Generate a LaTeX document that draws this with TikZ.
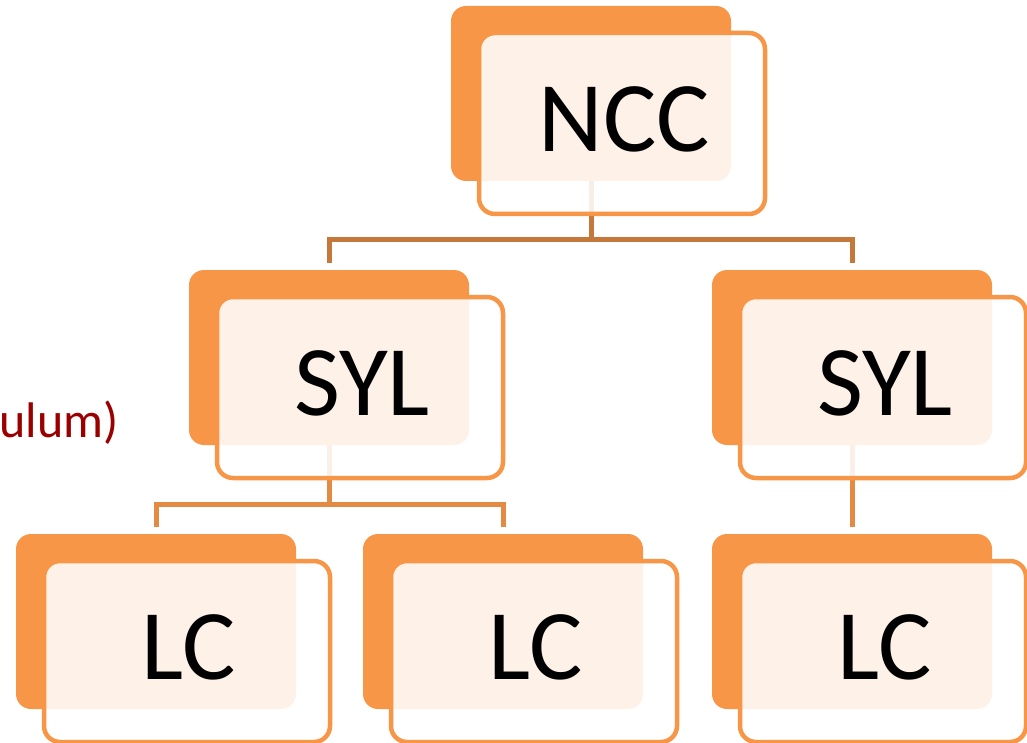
\documentclass[tikz,border=0pt]{standalone}
\usepackage{fontspec}
\setmainfont{Carlito}
\definecolor{boxorange}{RGB}{247,150,70}
\definecolor{connA}{RGB}{196,121,58}
\definecolor{connB}{RGB}{227,139,66}
\definecolor{darkred}{RGB}{155,0,0}
\tikzset{
  backbox/.style={rectangle, draw=none, fill=boxorange, rounded corners=15pt,
    minimum width=280pt, minimum height=175pt, inner sep=0pt},
  frontbox/.style={rectangle, draw=boxorange, line width=4.5pt, fill=white,
    fill opacity=0.88, draw opacity=1, rounded corners=16pt,
    minimum width=286pt, minimum height=181pt, inner sep=0pt},
  boxtext/.style={inner sep=0pt, font=\fontsize{100}{110}\selectfont, text=black},
  connA/.style={draw=connA, line width=5pt, line join=miter},
  connB/.style={draw=connB, line width=5pt, line join=miter},
}
\newcommand\backunit[3]{\node[backbox] (#1b) at (#2+140, #3+87.5) {};}
\newcommand\frontunit[4]{%
  \node[frontbox] (#1f) at (#2+171, #3+117.5) {};
  \node[boxtext] (#1t) at (#2+173, #3+113) {#4};}
\begin{document}
\begin{tikzpicture}[x=1pt, y=-1pt]
\useasboundingbox (0,0) rectangle (1027,743);
% back boxes
\backunit{ncc}{451}{6}
\backunit{sylL}{189}{270}
\backunit{sylR}{712}{270}
\backunit{lcL}{16}{534}
\backunit{lcM}{363}{534}
\backunit{lcR}{712}{534}
% connectors
\draw[connA] (nccb.south) -- ++(0,58) -| ([yshift=7pt]sylLb.north);
\draw[connA] (nccb.south) -- ++(0,58) -| ([yshift=7pt]sylRb.north);
\draw[connB] (sylLb.south) -- ++(0,59) -| ([yshift=7pt]lcLb.north);
\draw[connB] (sylLb.south) -- ++(0,59) -| ([yshift=7pt]lcMb.north);
\draw[connB] (sylRb.south) -- ([yshift=7pt]lcRb.north);
% front boxes and labels
\frontunit{ncc}{451}{6}{NCC}
\frontunit{sylL}{189}{270}{SYL}
\frontunit{sylR}{712}{270}{SYL}
\frontunit{lcL}{16}{534}{LC}
\frontunit{lcM}{363}{534}{LC}
\frontunit{lcR}{712}{534}{LC}
% clipped side text
\node[anchor=base east, inner sep=0pt, text=darkred, font=\fontsize{50}{60}\selectfont] (side) at (119,437) {ulum)};
\end{tikzpicture}
\end{document}
